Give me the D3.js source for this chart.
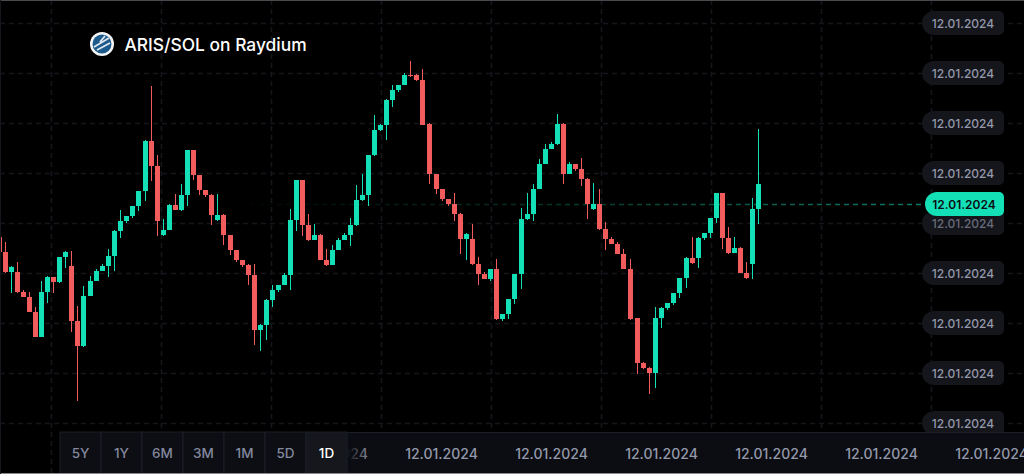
<!DOCTYPE html>
<html>
<head>
<meta charset="utf-8">
<script src="https://cdnjs.cloudflare.com/ajax/libs/d3/7.8.5/d3.min.js"></script>
<style>
  html, body { margin: 0; padding: 0; background: #000; overflow: hidden; }
  svg { display: block; font-family: Inter, "Noto Sans", sans-serif; }
</style>
</head>
<body>
<div id="chart"></div>
<script>
// candles, oldest first
var opens = [186,171,151,151,131,126,111,86,131,146,141,166,157,102,77,127,142,152,157,167,192,202,207,217,232,282,257,188,193,218,213,228,273,248,233,228,203,208,188,173,163,158,148,93,98,123,133,138,148,203,243,198,183,188,163,158,173,183,188,198,223,228,268,293,298,323,333,338,348,348,343,299,249,234,224,219,209,184,184,159,149,144,154,104,109,124,149,204,209,234,259,274,279,299,249,259,254,244,214,219,194,184,179,169,154,105,60,55,50,105,115,120,130,145,165,165,185,190,205,230,185,170,175,150,159,214];
var closes = [171,151,156,131,126,111,86,131,146,141,166,171,102,77,127,142,152,157,167,192,202,207,217,232,282,257,202,193,218,213,228,273,248,233,228,208,208,188,173,163,158,148,93,98,123,133,138,148,203,243,198,183,188,163,158,173,183,188,198,223,228,268,293,298,323,333,338,348,347,343,298,249,234,224,219,209,184,189,159,149,144,154,104,109,124,149,204,209,234,259,274,279,299,249,259,254,244,219,219,194,184,179,169,154,104,60,55,50,105,115,120,130,145,165,160,185,190,205,230,185,170,175,150,145,214,239];
var highs = [186,181,157,161,133,131,116,142,147,146,166,172,172,117,137,147,154,159,174,193,213,207,217,232,283,337,268,204,219,229,239,273,273,248,233,229,229,209,188,173,163,159,159,99,124,138,138,150,214,243,243,209,199,189,174,178,185,190,205,238,249,268,308,299,324,338,338,350,362,349,354,300,249,234,224,230,210,190,199,166,151,154,164,109,124,149,215,230,239,264,279,281,309,300,261,259,265,245,240,234,201,186,181,174,164,105,61,56,116,116,120,130,145,166,186,186,190,205,230,230,196,186,176,161,225,294];
var lows = [171,150,130,130,126,111,86,86,120,130,140,155,91,22,76,127,142,152,146,152,185,200,205,212,222,242,187,187,193,213,212,217,243,228,226,198,202,178,168,161,156,138,78,72,83,116,131,138,133,192,187,182,183,163,157,158,173,183,177,197,222,217,267,292,283,316,331,338,346,342,298,239,229,222,217,202,169,163,158,138,144,142,103,102,104,119,134,203,202,234,259,274,278,239,249,252,237,204,213,193,173,179,169,154,103,49,54,29,35,95,113,118,125,135,159,155,183,185,200,174,169,170,150,144,144,199];
var lastPrice = 219;

// axes, labels on this chart are all the same date
var yTicks = [400,350,300,250,200,150,100,50,0];
var yLabel = "12.01.2024";
var xGridSlots = [0,1,2,3,4,5,6,7,8];
var xLabelSlots = [3,4,5,6,7,8,9];
var xLabels = ["12.01.2024","12.01.2024","12.01.2024","12.01.2024","12.01.2024","12.01.2024","12.01.2024"];
var periods = ["5Y","1Y","6M","3M","1M","5D","1D"];
var activePeriod = "1D";
var title = "ARIS/SOL on Raydium";

var width = 1024, height = 474;
var green = "#14e0b8", red = "#f25c5c";

var svg = d3.select("#chart").append("svg")
  .attr("width", width)
  .attr("height", height);

// the candle spacing is not quite even in the screenshot (some 7px steps)
var x = d3.scaleLinear()
  .domain([0,14,15,23,24,37,38,70,72,85,86,103,105,112,113,125])
  .range([-0.5,83.5,90.5,138.5,145.5,223.5,230.5,422.5,436.5,514.5,521.5,623.5,637.5,679.5,686.5,758.5]);
var y = d3.scaleLinear().domain([0, 400]).range([423, 23]);
var slot = d3.scaleLinear().domain([0, 1]).range([51.5, 161.5]);
var candleWidth = 5;

var defs = svg.append("defs");
var priceGrad = defs.append("linearGradient")
  .attr("id", "priceGrad")
  .attr("gradientUnits", "userSpaceOnUse")
  .attr("x1", 250).attr("x2", 925).attr("y1", 0).attr("y2", 0);
priceGrad.append("stop").attr("offset", 0).attr("stop-color", green).attr("stop-opacity", 0.03);
priceGrad.append("stop").attr("offset", 0.4).attr("stop-color", green).attr("stop-opacity", 0.2);
priceGrad.append("stop").attr("offset", 1).attr("stop-color", green).attr("stop-opacity", 0.55);
var fadeGrad = defs.append("linearGradient").attr("id", "fadeGrad");
fadeGrad.append("stop").attr("offset", 0).attr("stop-color", "#0b0d12").attr("stop-opacity", 1);
fadeGrad.append("stop").attr("offset", 1).attr("stop-color", "#0b0d12").attr("stop-opacity", 0);

svg.append("rect").attr("width", width).attr("height", height).attr("fill", "#000");

// grid
svg.append("g").selectAll("line").data(yTicks).enter().append("line")
  .attr("x1", 0).attr("x2", width)
  .attr("y1", function (d) { return y(d) + 0.5; })
  .attr("y2", function (d) { return y(d) + 0.5; })
  .attr("stroke", "#14161c")
  .attr("stroke-width", 1.6)
  .attr("stroke-dasharray", "5,4");
svg.append("g").selectAll("line").data(xGridSlots).enter().append("line")
  .attr("x1", function (d) { return slot(d); })
  .attr("x2", function (d) { return slot(d); })
  .attr("y1", 0).attr("y2", height)
  .attr("stroke", "#14161c")
  .attr("stroke-width", 1.6)
  .attr("stroke-dasharray", "5,4");

// last price line
svg.append("line")
  .attr("x1", 250).attr("x2", 926)
  .attr("y1", y(lastPrice) + 0.5).attr("y2", y(lastPrice) + 0.5)
  .attr("stroke", "url(#priceGrad)")
  .attr("stroke-width", 1.5)
  .attr("stroke-dasharray", "5,4");

// candles
var candles = svg.append("g").selectAll("g").data(d3.range(opens.length)).enter().append("g")
  .attr("fill", function (i) { return closes[i] >= opens[i] ? green : red; })
  .attr("stroke", "none");
candles.append("rect")
  .attr("x", function (i) { return x(i) - 0.5; })
  .attr("width", 1)
  .attr("y", function (i) { return y(highs[i]); })
  .attr("height", function (i) { return y(lows[i]) - y(highs[i]); });
candles.append("rect")
  .attr("x", function (i) { return x(i) - candleWidth / 2; })
  .attr("width", candleWidth)
  .attr("y", function (i) { return y(Math.max(opens[i], closes[i])); })
  .attr("height", function (i) { return Math.abs(y(opens[i]) - y(closes[i])); });

// price labels on the right
function pill(px, py, w, h, rl, rr) {
  var p = d3.path();
  p.moveTo(px + rl, py);
  p.lineTo(px + w - rr, py);
  p.arcTo(px + w, py, px + w, py + rr, rr);
  p.lineTo(px + w, py + h - rr);
  p.arcTo(px + w, py + h, px + w - rr, py + h, rr);
  p.lineTo(px + rl, py + h);
  p.arcTo(px, py + h, px, py + h - rl, rl);
  p.lineTo(px, py + rl);
  p.arcTo(px, py, px + rl, py, rl);
  p.closePath();
  return p.toString();
}
var yAxis = svg.append("g").selectAll("g").data(yTicks).enter().append("g")
  .attr("transform", function (d) { return "translate(922," + (y(d) - 12) + ")"; });
yAxis.append("path")
  .attr("d", pill(0, 0, 82, 24, 12, 5))
  .attr("fill", "#14161c");
yAxis.append("text")
  .attr("x", 41).attr("y", 17)
  .attr("text-anchor", "middle")
  .attr("font-size", 12)
  .attr("font-weight", 500)
  .attr("fill", "#9499ab")
  .attr("opacity", function (d) { return d === 200 ? 0.65 : 1; })
  .text(yLabel);

var lastLabel = svg.append("g")
  .attr("transform", "translate(925," + (y(lastPrice) - 12) + ")");
lastLabel.append("path")
  .attr("d", pill(0, 0, 79, 24, 12, 5))
  .attr("fill", green);
lastLabel.append("text")
  .attr("x", 39).attr("y", 17)
  .attr("text-anchor", "middle")
  .attr("font-size", 12)
  .attr("font-weight", 600)
  .attr("fill", "#0b0d12")
  .text(yLabel);

// bottom time axis
svg.append("rect")
  .attr("x", 60).attr("y", 432).attr("width", width - 60).attr("height", 42)
  .attr("fill", "#0b0d12");
svg.append("line")
  .attr("x1", 60).attr("x2", width).attr("y1", 432.5).attr("y2", 432.5)
  .attr("stroke", "#1c1f27");
svg.append("g").selectAll("text").data(xLabelSlots).enter().append("text")
  .attr("x", function (d) { return slot(d) - 50; })
  .attr("y", 459)
  .attr("text-anchor", "middle")
  .attr("font-size", 14)
  .attr("font-weight", 500)
  .attr("fill", "#9499ab")
  .text(function (d, i) { return xLabels[i]; });

// period buttons
var period = d3.scaleBand().domain(periods).range([60, 347]);
svg.append("rect")
  .attr("x", 347).attr("y", 433).attr("width", 24).attr("height", 41)
  .attr("fill", "url(#fadeGrad)");
var buttons = svg.append("g").selectAll("g").data(periods).enter().append("g")
  .attr("transform", function (d) { return "translate(" + period(d) + ",432)"; });
buttons.append("rect")
  .attr("width", period.bandwidth())
  .attr("height", 42)
  .attr("fill", function (d) { return d === activePeriod ? "#15171c" : "#0c0e13"; })
  .attr("stroke", "#1c1f27");
buttons.append("text")
  .attr("x", period.bandwidth() / 2)
  .attr("y", 26)
  .attr("text-anchor", "middle")
  .attr("font-size", 13.5)
  .attr("font-weight", 500)
  .attr("fill", function (d) { return d === activePeriod ? "#ffffff" : "#83889f"; })
  .text(function (d) { return d; });

// title and logo
var logo = svg.append("g").attr("transform", "translate(102,44)");
logo.append("circle").attr("r", 12).attr("fill", "#f2f4f6");
logo.append("circle").attr("r", 9.5).attr("fill", "#1d5a8c");
logo.append("path").attr("d", "M-8,3 L7,-6 M-5,6 L8,-1 M-2,-2 L3,-8")
  .attr("stroke", "#dfe7ee").attr("stroke-width", 1.8).attr("fill", "none");
svg.append("text")
  .attr("x", 124.5).attr("y", 51)
  .attr("font-size", 17.4)
  .attr("font-weight", 500)
  .attr("fill", "#ffffff")
  .text(title);

// screenshot edges
svg.append("line").attr("x1", 0).attr("x2", width).attr("y1", 0.5).attr("y2", 0.5).attr("stroke", "#4a4a4e");
svg.append("line").attr("x1", 0).attr("x2", width).attr("y1", 473.5).attr("y2", 473.5).attr("stroke", "#8a8a8e");
svg.append("line").attr("x1", 0.5).attr("x2", 0.5).attr("y1", 0).attr("y2", height).attr("stroke", "#14161c");
</script>
</body>
</html>
